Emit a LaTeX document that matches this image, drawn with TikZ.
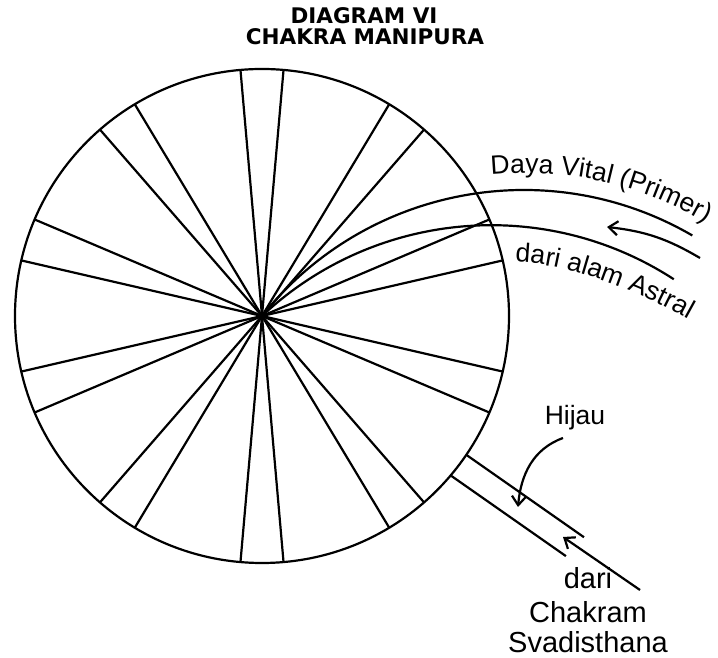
\documentclass[tikz,border=0pt]{standalone}
\usepackage{fontspec}
\setmainfont{Liberation Sans}
\newfontfamily\titlefam{DejaVu Sans}
\usetikzlibrary{arrows.meta,decorations.text,calc}
\newcommand\lblfont{\fontsize{26.5}{30}\selectfont}
\newcommand\bigfont{\fontsize{29}{33}\selectfont}
\begin{document}
\begin{tikzpicture}[x=1pt,y=1pt,
  ink/.style={line width=2.2pt, black},
  barb/.style={-{Straight Barb[length=9pt,width=14pt]}},
  lbl/.style={font=\lblfont, inner sep=0pt, anchor=base},
  biglbl/.style={font=\bigfont, inner sep=0pt, anchor=base},
  ttl/.style={font={\titlefam\bfseries\fontsize{21.5}{24}\selectfont}, inner sep=0pt, anchor=base}]
\useasboundingbox (0,0) rectangle (718,658);
\fill[white] (0,0) rectangle (718,658);
% title
\node[ttl] (t1) at (364,634) {DIAGRAM VI};
\node[ttl] (t2) at (365,613) {CHAKRA MANIPURA};
% wheel
\coordinate (C) at (262,342);
\draw[ink] (C) circle[radius=247];
\foreach \a in {13,23,49,59,85,95,121,131,157,167,193,203,229,239,265,275,301,311,337,347}
  \draw[ink] (C) -- ++(\a:247);
% incoming curves
\draw[ink] (C) arc[start angle=141.4, end angle=59.8, radius=335] coordinate (c1end);
\draw[ink] (C) arc[start angle=133.2, end angle=57, radius=335] coordinate (c2end);
\coordinate (a1tail) at (700,400);
\coordinate (a1head) at (607,431);
\draw[ink, barb] (a1tail) to[bend right=12] (a1head);
\path[decorate, decoration={text along path, text={|\lblfont|Daya Vital (Primer)}, text align=left}]
  (491.2,483.4) arc[start angle=95.5, end angle=50, radius=353];
\path[decorate, decoration={text along path, text={|\lblfont|dari alam Astral}, text align=left}]
  (515,396) .. controls (575,394) and (650,362) .. (705,329);
% channel
\coordinate (u0) at ($(C)+(-34.2:247)$);
\coordinate (l0) at ($(C)+(-40.2:247)$);
\draw[ink] (u0) -- ++(-35:143.7) coordinate (u1);
\draw[ink] (l0) -- ++(-35:140.7) coordinate (l1);
\node[lbl] (hijau) at (575,233) {Hijau};
\coordinate (h0) at (563,220);
\coordinate (h1) at (518,151);
\draw[ink, barb] (h0) to[out=200, in=85] (h1);
\coordinate (a2tail) at (640,68);
\coordinate (a2head) at (563,121);
\draw[ink, barb] (a2tail) -- (a2head);
\node[biglbl] (dari) at (588,69) {dari};
\node[biglbl] (chakram) at (588,35) {Chakram};
\node[biglbl] (svad) at (588,5) {Svadisthana};
\end{tikzpicture}
\end{document}
